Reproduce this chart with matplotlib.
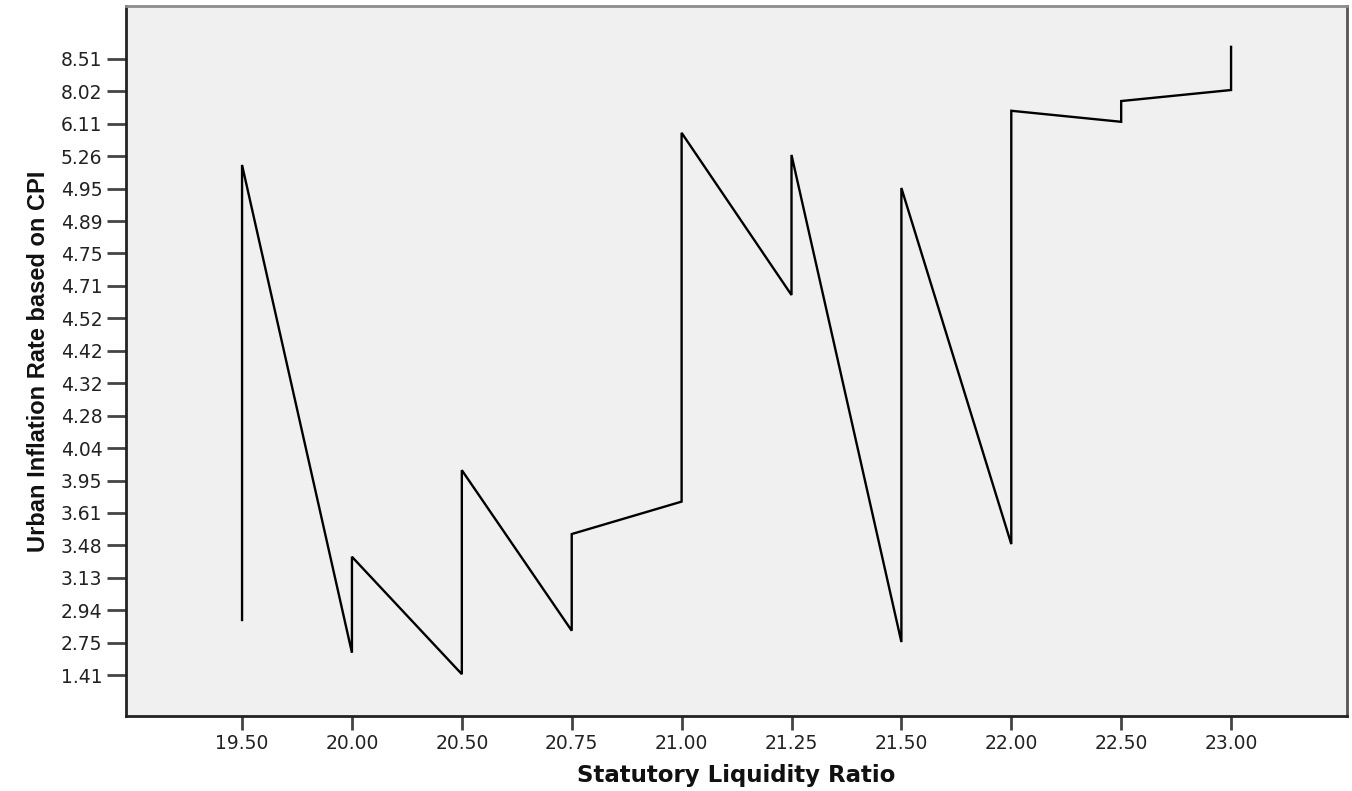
import matplotlib
matplotlib.use("Agg")
import matplotlib.pyplot as plt

# Categorical x axis (Statutory Liquidity Ratio)
slr_labels = ['19.50', '20.00', '20.50', '20.75', '21.00',
              '21.25', '21.50', '22.00', '22.50', '23.00']
# Categorical y axis (Urban Inflation Rate based on CPI), bottom to top
cpi_labels = ['1.41', '2.75', '2.94', '3.13', '3.48', '3.61', '3.95',
              '4.04', '4.28', '4.32', '4.42', '4.52', '4.71', '4.75',
              '4.89', '4.95', '5.26', '6.11', '8.02', '8.51']

# Line vertices: x category index, y position in category units
slr_idx = [0, 0, 1, 1, 2, 2, 3, 3, 4, 4, 5, 5, 6, 6, 7, 7, 8, 8, 9, 9]
cpi_pos = [1.70, 15.73, 0.69, 3.65, 0.03, 6.32, 1.37, 4.35, 5.35, 16.72,
           11.72, 16.04, 1.02, 15.02, 4.04, 17.40, 17.06, 17.70, 18.04, 19.37]

fig = plt.figure(figsize=(13.52, 7.91), dpi=100)
ax = fig.add_axes([0.0932, 0.0948, 0.9031, 0.8976])
ax.set_facecolor('#f0f0f0')

ax.plot(slr_idx, cpi_pos, color='black', lw=1.7, solid_joinstyle='miter')

ax.set_xticks(range(len(slr_labels)))
ax.set_xticklabels(slr_labels)
ax.set_yticks(range(len(cpi_labels)))
ax.set_yticklabels(cpi_labels)
ax.set_xlim(-1.056, 10.055)
ax.set_ylim(-1.26, 20.63)

ax.tick_params(axis='x', length=10, width=2, color='#444444', pad=3,
               labelsize=13.5, labelcolor='#222222')
ax.tick_params(axis='y', length=14, width=2, color='#444444', pad=3,
               labelsize=13.5, labelcolor='#222222')
for lab in ax.get_xticklabels() + ax.get_yticklabels():
    lab.set_family('DejaVu Sans')

for side in ['left', 'bottom']:
    ax.spines[side].set_color('#222222')
    ax.spines[side].set_linewidth(2)
ax.spines['top'].set_color('#8c8c8c')
ax.spines['top'].set_linewidth(2)
ax.spines['right'].set_color('#555555')
ax.spines['right'].set_linewidth(2)

ax.set_xlabel('Statutory Liquidity Ratio', fontsize=16.5, fontweight='bold',
              family='DejaVu Sans', labelpad=8, color='#111111')
ax.set_ylabel('Urban Inflation Rate based on CPI', fontsize=17, fontweight='bold',
              family=['Liberation Sans Narrow', 'Liberation Sans', 'DejaVu Sans'],
              labelpad=8, color='#111111')

fig.savefig('out.png', dpi=100)
